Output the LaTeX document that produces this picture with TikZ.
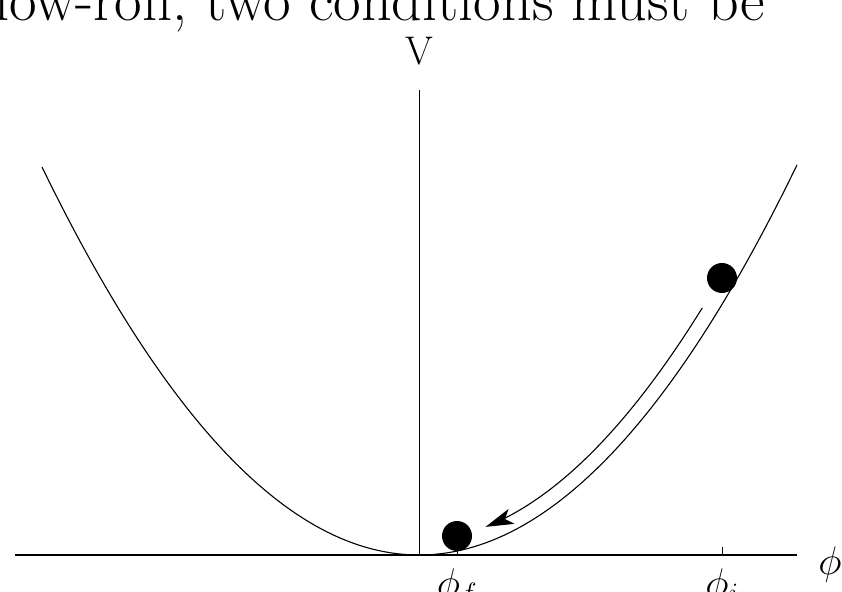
\RequirePackage{fix-cm}
\documentclass[tikz,border=0pt]{standalone}
\usetikzlibrary{arrows.meta}

\begin{document}
\begin{tikzpicture}[x=10pt,y=10pt,line width=1.1pt,
  ball/.style={circle,fill=black,minimum size=30pt,inner sep=0pt},
  lbl/.style={inner sep=0pt,font=\fontsize{40}{48}\selectfont}]
  \useasboundingbox (-41.9,-3.6) rectangle (42.3,55.5);
  \clip (-41.9,-3.6) rectangle (42.3,55.5);
  \node[anchor=base west,inner sep=0pt,font=\fontsize{60}{72}\selectfont] (caption) at (-42.5,53.4) {low-roll, two conditions must be};
  % axes
  \draw (-40.4,0) -- (37.8,0);
  \draw[line width=0.7pt] (0,0) -- (0,46.5);
  \node[lbl,anchor=base] (vlabel) at (0,49) {V};
  \node[lbl,anchor=base] (philabel) at (41.1,-1.9) {$\phi$};
  \foreach \p/\s in {30.3/i,3.8/f}{
    \draw[line width=0.7pt] (\p,0) -- (\p,0.8);
    \node[lbl,anchor=base] (phi\s) at (\p,-4.1) {$\phi_\s$};
  }
  % potential
  \draw[domain=-37.7:37.8,samples=120] plot (\x,{0.0273*\x*\x});
  \node[ball] (start) at (30.3,27.7) {};
  \node[ball] (stop) at (3.8,1.9) {};
  \draw[-{Stealth[length=28pt,width=16pt,inset=7pt]},domain=29.6:7.2,samples=60]
    plot ({\x-1.5*0.0546*\x/sqrt(1+(0.0546*\x)^2)},{0.0273*\x*\x+1.5/sqrt(1+(0.0546*\x)^2)});
\end{tikzpicture}
\end{document}
